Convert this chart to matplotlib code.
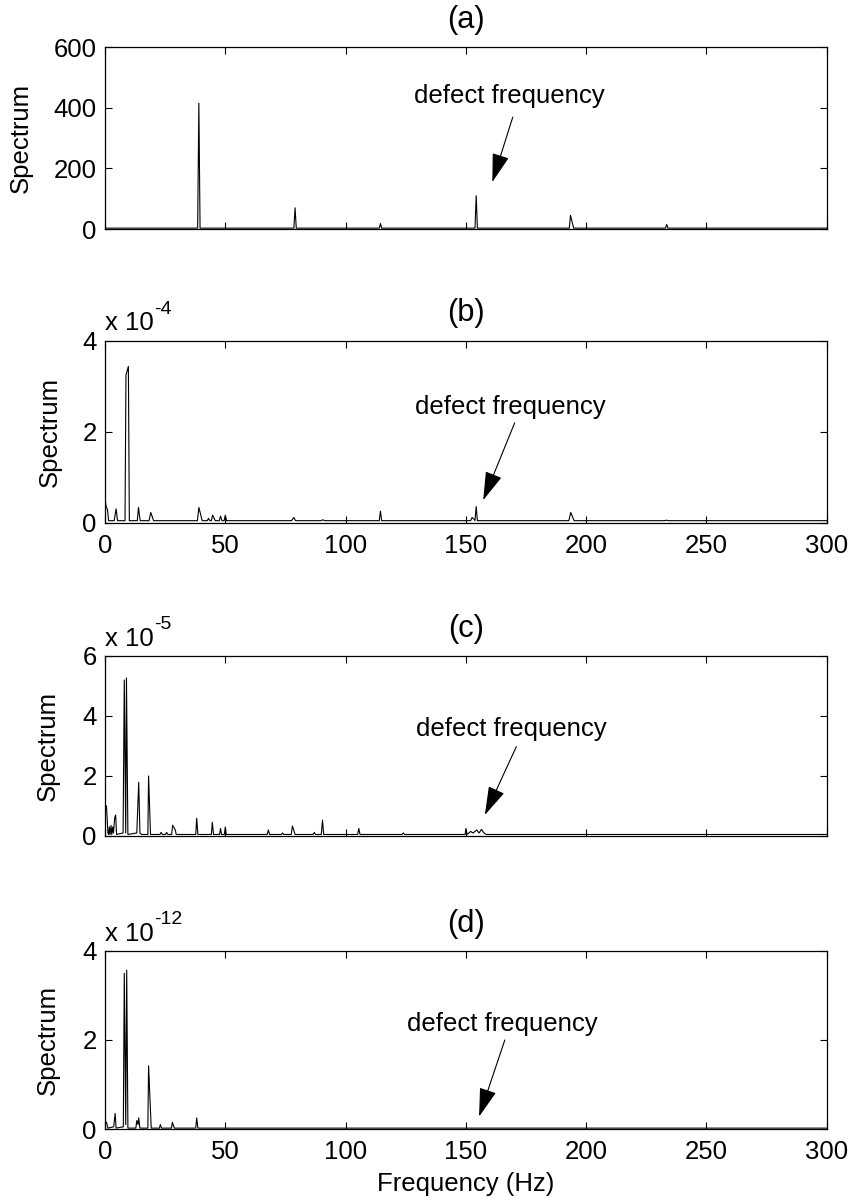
import matplotlib
matplotlib.use("Agg")
import matplotlib.pyplot as plt

plt.rcParams["font.family"] = ["Liberation Sans", "DejaVu Sans"]
plt.rcParams["font.size"] = 18.5

# (a) raw spectrum
freq_a = [0, 38.5, 39, 39.5, 78.5, 79, 79.5, 114, 114.5, 115,
          153.8, 154.3, 154.8, 193, 193.5, 194.8, 233, 233.5, 234, 300]
spec_a = [3, 3, 415, 3, 3, 70, 3, 3, 18, 3,
          3, 110, 3, 3, 45, 3, 3, 15, 3, 3]

# (b) spectrum, x 1e-4
freq_b = [0, 0.5, 1.0, 1.5, 3.8, 4.6, 5.2, 8.3, 8.7, 9.7, 10.1,
          13.4, 13.9, 14.6, 18.3, 19.0, 20.2, 38.4, 39.0, 40.4,
          42.5, 43.0, 43.6, 44.2, 44.7, 45.8, 47.5, 48.0, 48.6,
          49.5, 50.0, 50.5, 77.5, 78.5, 79.2, 89.8, 90.5, 91.3,
          114.0, 114.5, 115.0, 152.0, 152.6, 153.4, 153.8, 154.3, 154.8,
          192.8, 193.6, 195.0, 232.6, 233.4, 234.2, 300]
spec_b = [0.52, 0.35, 0.30, 0.05, 0.05, 0.31, 0.05, 0.05, 3.25, 3.44, 0.05,
          0.05, 0.34, 0.05, 0.05, 0.23, 0.05, 0.05, 0.34, 0.05,
          0.05, 0.10, 0.05, 0.05, 0.17, 0.05, 0.05, 0.15, 0.05,
          0.05, 0.17, 0.05, 0.05, 0.12, 0.05, 0.05, 0.07, 0.05,
          0.05, 0.26, 0.05, 0.05, 0.12, 0.08, 0.05, 0.36, 0.05,
          0.05, 0.23, 0.05, 0.05, 0.06, 0.05, 0.05]

# (c) spectrum, x 1e-5
freq_c = [0, 0.6, 1.2, 1.5, 1.8, 2.1, 2.5, 2.8, 3.2, 3.5, 4.0, 4.4, 4.8,
          7.5, 8.0, 8.6, 8.9, 9.5, 13.2, 14.0, 14.5, 15.2, 17.8, 18.1, 18.9,
          22.8, 23.3, 23.8, 25.1, 25.6, 26.1, 27.7, 28.1, 29.2, 29.6,
          37.7, 38.1, 38.6, 44.2, 44.6, 45.1, 47.6, 48.0, 48.4, 49.6, 50.0, 50.4,
          67.4, 67.9, 68.4, 73.3, 73.8, 74.3, 77.4, 77.9, 79.0,
          86.5, 87.0, 87.5, 89.9, 90.4, 90.9, 105.0, 105.5, 106.0,
          123.5, 124.0, 124.5, 149.7, 150.0, 150.5, 152.0, 153.0, 154.5,
          155.5, 156.5, 157.5, 158.5, 300]
spec_c = [1.0, 1.0, 0.1, 0.05, 0.3, 0.05, 0.35, 0.05, 0.3, 0.1, 0.6, 0.7, 0.05,
          0.1, 5.2, 0.1, 5.27, 0.05, 0.1, 1.79, 0.1, 0.05, 0.05, 2.0, 0.05,
          0.05, 0.12, 0.05, 0.05, 0.12, 0.05, 0.05, 0.36, 0.2, 0.05,
          0.05, 0.59, 0.05, 0.05, 0.46, 0.05, 0.05, 0.25, 0.05, 0.05, 0.3, 0.05,
          0.05, 0.2, 0.05, 0.05, 0.1, 0.05, 0.05, 0.33, 0.05,
          0.05, 0.12, 0.05, 0.05, 0.53, 0.05, 0.05, 0.25, 0.05,
          0.05, 0.1, 0.05, 0.05, 0.25, 0.05, 0.15, 0.1, 0.2,
          0.1, 0.22, 0.1, 0.05, 0.05]

# (d) spectrum, x 1e-12
freq_d = [0, 0.6, 1.2, 3.6, 4.2, 4.6, 7.6, 8.0, 8.6, 9.0, 9.5,
          12.8, 13.2, 13.7, 14.0, 14.5, 17.8, 18.1, 19.2,
          22.6, 23.0, 23.5, 27.6, 28.0, 28.8, 37.7, 38.1, 38.6, 300]
spec_d = [0.17, 0.15, 0.02, 0.05, 0.35, 0.02, 0.05, 3.5, 0.1, 3.57, 0.02,
          0.02, 0.19, 0.1, 0.25, 0.02, 0.02, 1.42, 0.02,
          0.02, 0.1, 0.02, 0.02, 0.15, 0.02, 0.02, 0.25, 0.02, 0.02]

panels = ["(a)", "(b)", "(c)", "(d)"]
ylims = [600, 4, 6, 4]
yticks = [[0, 200, 400, 600], [0, 2, 4], [0, 2, 4, 6], [0, 2, 4]]
exponents = [None, "-4", "-5", "-12"]
# annotation: text position (x, y) and arrow tail / tip in data units
text_xy = [(168, 438), (168.5, 2.55), (169, 3.55), (165, 2.35)]
tip_xy = [(161, 155), (157.2, 0.5), (157.9, 0.7), (155.5, 0.28)]
tail_xy = [(169.5, 369), (170.3, 2.2), (171, 2.98), (166.2, 2.0)]

fig = plt.figure(figsize=(8.54, 12.03), dpi=100)
boxes = [(0.123, 0.8096, 0.845, 0.1513),
         (0.123, 0.5653, 0.845, 0.1513),
         (0.123, 0.3051, 0.845, 0.1496),
         (0.123, 0.0615, 0.845, 0.1480)]
label_x = [-0.0997, -0.0596, -0.0623, -0.0623]
data = [(freq_a, spec_a), (freq_b, spec_b), (freq_c, spec_c), (freq_d, spec_d)]

for i, box in enumerate(boxes):
    ax = fig.add_axes(box)
    fx, sy = data[i]
    ax.plot(fx, sy, color="k", lw=0.8)
    ax.set_xlim(0, 300)
    ax.set_ylim(0, ylims[i])
    ax.set_xticks([0, 50, 100, 150, 200, 250, 300])
    ax.set_yticks(yticks[i])
    ax.tick_params(direction="in", top=True, right=True, length=5, width=0.8)
    ax.tick_params(axis="x", pad=8)
    ax.tick_params(axis="y", pad=6)
    if i in (0, 2):
        ax.set_xticklabels([])
    for sp in ax.spines.values():
        sp.set_linewidth(0.9)
    ax.set_title(panels[i], pad=14)
    ax.set_ylabel("Spectrum")
    ax.yaxis.set_label_coords(label_x[i], 0.5)
    if exponents[i]:
        base = ax.text(0, 1.03, "x 10", transform=ax.transAxes,
                       ha="left", va="bottom")
        ax.annotate(exponents[i], xy=(1, 0.72), xycoords=base,
                    ha="left", va="bottom", fontsize=14)
    ax.text(text_xy[i][0], text_xy[i][1], "defect frequency",
            ha="center", va="center")
    ax.annotate("", xy=tip_xy[i], xytext=tail_xy[i],
                arrowprops=dict(arrowstyle="-|>,head_length=1.2,head_width=0.36",
                                mutation_scale=15, color="k", lw=0.8,
                                shrinkA=0, shrinkB=0))
    if i == 3:
        ax.set_xlabel("Frequency (Hz)", labelpad=6)

fig.savefig("out.png", dpi=100)
